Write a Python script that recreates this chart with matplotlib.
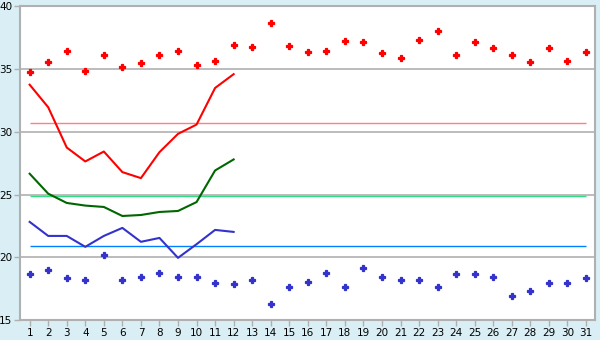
import numpy as np
import matplotlib.pyplot as plt

days = np.arange(1, 32)

high_pts = [34.77, 35.56, 36.44, 34.85, 36.12, 35.17, 35.48, 36.12, 36.44, 35.33,
            35.64, 36.91, 36.75, 38.66, 36.83, 36.36, 36.44, 37.23, 37.15, 36.28,
            35.88, 37.31, 38.03, 36.12, 37.15, 36.67, 36.12, 35.56, 36.67, 35.64, 36.36]
low_pts = [18.63, 18.97, 18.31, 18.15, 20.14, 18.15, 18.39, 18.71, 18.39, 18.39,
           17.91, 17.84, 18.15, 16.25, 17.60, 18.00, 18.71, 17.60, 19.11, 18.39,
           18.15, 18.15, 17.60, 18.63, 18.63, 18.39, 16.88, 17.28, 17.91, 17.91, 18.31]

red_line = [33.76, 31.96, 28.75, 27.64, 28.43, 26.79, 26.31, 28.38, 29.84, 30.58, 33.5, 34.6]
green_line = [26.66, 25.07, 24.33, 24.12, 24.01, 23.29, 23.37, 23.61, 23.69, 24.4, 26.92, 27.8]
blue_line = [22.82, 21.7, 21.7, 20.83, 21.7, 22.34, 21.23, 21.54, 19.95, 21.04, 22.18, 22.02]

red_ref = 30.7
green_ref = 24.9
blue_ref = 20.86

bg = "#d9eff5"
gray = "#b0b0b0"

fig = plt.figure(figsize=(6, 3.4), dpi=100, facecolor=bg)
ax = fig.add_axes([0.034, 0.059, 0.958, 0.922])
ax.set_facecolor("white")

ax.set_xlim(0.5, 31.5)
ax.set_ylim(15, 40)

for y in [20, 25, 30, 35]:
    ax.axhline(y, color=gray, lw=1.2, zorder=1)

ax.hlines(red_ref, 1, 31, color="#ff7f7f", lw=1, zorder=2)
ax.hlines(green_ref, 1, 31, color="#33dd88", lw=1, zorder=2)
ax.hlines(blue_ref, 1, 31, color="#0080ff", lw=1, zorder=2)

d12 = days[:len(red_line)]
ax.plot(d12, red_line, color="#ff0000", lw=1.5, zorder=3)
ax.plot(d12, green_line, color="#006600", lw=1.5, zorder=3)
ax.plot(d12, blue_line, color="#3333cc", lw=1.5, zorder=3)

# filled plus markers, fattened a bit with an edge
ax.plot(days, high_pts, ls="none", marker="P", ms=4.2, color="#ff0000",
        markeredgewidth=0.9, zorder=4)
ax.plot(days, low_pts, ls="none", marker="P", ms=4.2, color="#3333cc",
        markeredgewidth=0.9, zorder=4)

ax.set_xticks(days)
ax.set_yticks([15, 20, 25, 30, 35, 40])
ax.tick_params(axis="both", colors=gray, labelcolor="black", labelsize=7.5,
               length=4, width=1, pad=2)
for s in ax.spines.values():
    s.set_color(gray)
    s.set_linewidth(1.5)

fig.savefig("out.png", dpi=100, facecolor=bg)
